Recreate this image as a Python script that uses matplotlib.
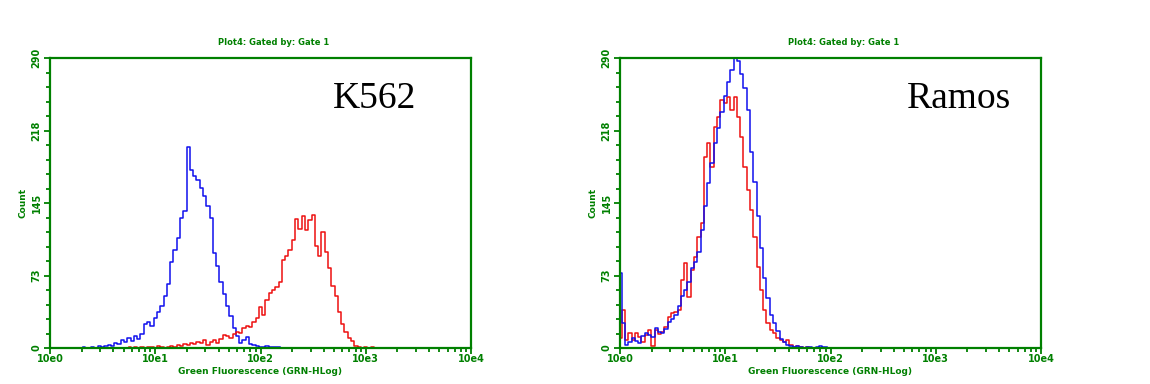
import matplotlib
matplotlib.use("Agg")
import matplotlib.pyplot as plt
import numpy as np
from matplotlib.ticker import FixedLocator, MultipleLocator, LogLocator, NullFormatter

# histogram channels: 32 channels per decade, 0..128 over 10e0..10e4
CH_PER_DEC = 32

k562_blue_start = 10
k562_blue = [1, 0, 0, 1, 0, 2, 1, 2, 3, 2, 5, 4, 8, 6, 10, 7, 12, 9, 14, 24,
             26, 22, 30, 36, 42, 52, 64, 86, 98, 110, 130, 137, 201, 178, 172,
             168, 160, 152, 142, 130, 95, 82, 66, 54, 42, 32, 20, 12, 5, 8, 11,
             4, 3, 2, 1, 1, 2, 1, 1, 1, 1]

k562_red_start = 24
k562_red = [1, 0, 1, 0, 1, 0, 1, 1, 0, 2, 1, 0, 1, 2, 1, 3, 2, 4, 3, 5, 4, 6,
            5, 8, 3, 6, 8, 5, 9, 13, 12, 10, 14, 16, 15, 20, 22, 21, 26, 30,
            41, 33, 48, 55, 58, 61, 66, 88, 92, 98, 108, 129, 119, 132, 118,
            128, 133, 102, 92, 116, 96, 80, 62, 52, 36, 24, 16, 10, 7, 2, 1, 0,
            1, 0, 1, 0]

ramos_blue_start = 0
ramos_blue = [75, 25, 3, 6, 10, 7, 5, 12, 15, 13, 11, 20, 16, 15, 19, 26, 29,
              33, 42, 52, 58, 66, 80, 86, 96, 118, 142, 165, 185, 205, 220,
              236, 252, 266, 278, 292, 287, 274, 260, 238, 196, 166, 132, 100,
              70, 50, 33, 25, 17, 9, 6, 3, 2, 1, 2, 1, 0, 1, 1, 0, 1, 2, 1, 1]

ramos_red_start = 0
ramos_red = [10, 38, 8, 15, 8, 15, 11, 6, 13, 18, 2, 18, 14, 16, 21, 31, 35,
             36, 38, 68, 85, 51, 78, 91, 111, 125, 191, 205, 181, 221, 231,
             248, 245, 251, 238, 251, 231, 211, 181, 158, 138, 111, 81, 58, 38,
             25, 18, 15, 10, 8, 6, 8, 3, 1, 2, 1, 0, 1, 0]

y_ticks = [0, 72.5, 145, 217.5, 290]
y_labels = ["0", "73", "145", "218", "290"]
x_ticks = [1, 10, 100, 1000, 10000]
x_labels = ["10e0", "10e1", "10e2", "10e3", "10e4"]

GREEN = "#008000"
BLUE = "#1010ee"
RED = "#ee1010"


def channel_x(start, counts):
    return 10 ** (np.arange(start, start + len(counts)) / CH_PER_DEC)


def panel(ax, curves, name, name_x):
    for start, counts, color in curves:
        ax.plot(channel_x(start, counts), counts, drawstyle="steps-mid",
                color=color, lw=1.1)
    ax.set_xscale("log")
    ax.set_xlim(1, 10000)
    ax.set_ylim(0, 290)
    for s in ax.spines.values():
        s.set_color(GREEN)
        s.set_linewidth(1.6)
    ax.yaxis.set_major_locator(FixedLocator(y_ticks))
    ax.set_yticklabels(y_labels, rotation=90, va="center")
    ax.yaxis.set_minor_locator(MultipleLocator(14.5))
    ax.set_xticks(x_ticks)
    ax.set_xticklabels(x_labels)
    ax.xaxis.set_minor_locator(LogLocator(base=10, subs=np.arange(2, 10)))
    ax.xaxis.set_minor_formatter(NullFormatter())
    ax.tick_params(which="both", colors=GREEN, width=1.3, direction="out")
    ax.tick_params(which="major", length=4, labelsize=7, pad=2)
    ax.tick_params(axis="x", which="major", pad=0.5)
    ax.tick_params(which="minor", length=3)
    for lab in ax.get_xticklabels() + ax.get_yticklabels():
        lab.set_fontweight("bold")
        lab.set_color(GREEN)
    ax.set_xlabel("Green Fluorescence (GRN-HLog)", color=GREEN, fontsize=6.5,
                  fontweight="bold", labelpad=2)
    ax.set_ylabel("Count", color=GREEN, fontsize=6.5, fontweight="bold",
                  labelpad=3)
    ax.text(0.53, 1.055, "Plot4: Gated by: Gate 1", transform=ax.transAxes,
            color=GREEN, fontsize=6, fontweight="bold", ha="center", va="center")
    ax.text(name_x, 0.86, name, transform=ax.transAxes, fontsize=27,
            family="Liberation Serif", ha="center", va="center", color="black")


fig = plt.figure(figsize=(11.5, 3.84), dpi=100)
ax1 = fig.add_axes([50 / 1150, 36 / 384, 421 / 1150, 290 / 384])
ax2 = fig.add_axes([620 / 1150, 36 / 384, 421 / 1150, 290 / 384])

panel(ax1, [(k562_blue_start, k562_blue, BLUE),
            (k562_red_start, k562_red, RED)], "K562", 0.77)
panel(ax2, [(ramos_red_start, ramos_red, RED),
            (ramos_blue_start, ramos_blue, BLUE)], "Ramos", 0.805)

fig.savefig("out.png", dpi=100)
